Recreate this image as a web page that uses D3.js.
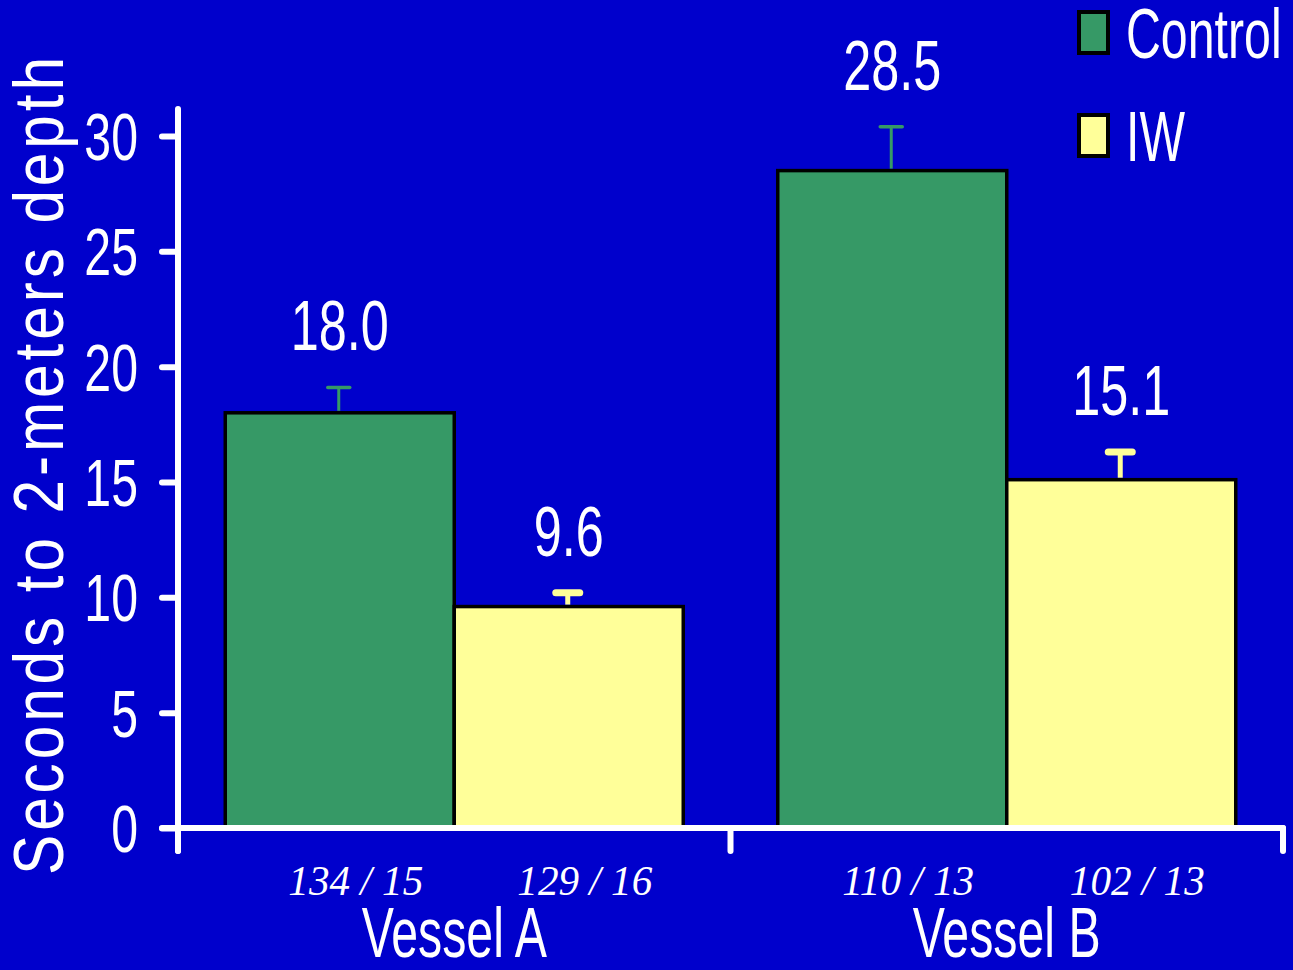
<!DOCTYPE html>
<html>
<head>
<meta charset="utf-8">
<script src="https://cdn.jsdelivr.net/npm/d3@7"></script>
<style>
  html, body { margin: 0; padding: 0; background: #0000cc; }
  svg { display: block; }
</style>
</head>
<body>
<svg id="chart" width="1293" height="970"></svg>
<script>
// ---- data ----
const categories = ["Vessel A", "Vessel B"];
const seriesNames = ["Control", "IW"];
const controlValues = [18.0, 28.5];
const iwValues = [9.6, 15.1];
const controlErrors = [1.1, 1.9];
const iwErrors = [0.6, 1.2];
const controlCounts = ["134 / 15", "110 / 13"];
const iwCounts = ["129 / 16", "102 / 13"];
const yTicks = [0, 5, 10, 15, 20, 25, 30];
const yTitle = "Seconds to 2-meters depth";

// ---- styles ----
const BG = "#0000cc";
const colors = { Control: "#369966", IW: "#ffff99" };
const SANS = "'Liberation Sans', Arial, sans-serif";
const SERIF = "'Liberation Serif', 'Times New Roman', serif";

const svg = d3.select("#chart");
svg.append("rect").attr("width", 1293).attr("height", 970).attr("fill", BG);

const rows = [];
categories.forEach((c, i) => {
  rows.push({ cat: c, s: "Control", v: controlValues[i], e: controlErrors[i], n: controlCounts[i] });
  rows.push({ cat: c, s: "IW", v: iwValues[i], e: iwErrors[i], n: iwCounts[i] });
});

const y = d3.scaleLinear().domain([0, 30]).range([828, 136]);
const x0 = d3.scaleBand().domain(categories).range([178, 1283]).paddingInner(0).paddingOuter(0);
const barW = 229;
const po = (x0.bandwidth() / barW - 2) / 2;
const x1 = d3.scaleBand().domain(seriesNames).range([0, x0.bandwidth()]).paddingInner(0).paddingOuter(po);

function scaledText(parent, x, yy, txt, size, sx, anchor, family, style) {
  const g = parent.append("g").attr("transform", `translate(${x},${yy}) scale(${sx},1)`);
  const t = g.append("text")
    .attr("text-anchor", anchor)
    .attr("font-family", family || SANS)
    .attr("font-size", size)
    .attr("fill", "white")
    .text(txt);
  if (style) t.attr("font-style", style);
  return t;
}

// ---- bars ----
const bars = svg.append("g");
bars.selectAll("rect").data(rows).join("rect")
  .attr("x", d => x0(d.cat) + x1(d.s))
  .attr("y", d => y(d.v))
  .attr("width", x1.bandwidth())
  .attr("height", d => y(0) - y(d.v))
  .attr("fill", d => colors[d.s])
  .attr("stroke", "black")
  .attr("stroke-width", 3.5);

// ---- error bars ----
const errs = svg.append("g");
rows.forEach(d => {
  const cx = x0(d.cat) + x1(d.s) + x1.bandwidth() / 2 - 1;
  const thick = d.s === "IW";
  errs.append("line")
    .attr("x1", cx).attr("x2", cx)
    .attr("y1", y(d.v) - 2).attr("y2", y(d.v + d.e))
    .attr("stroke", colors[d.s]).attr("stroke-width", thick ? 5 : 3);
  const cw = thick ? 24 : 22;
  errs.append("line")
    .attr("x1", cx - cw / 2).attr("x2", cx + cw / 2)
    .attr("y1", y(d.v + d.e)).attr("y2", y(d.v + d.e))
    .attr("stroke", colors[d.s]).attr("stroke-width", thick ? 7 : 3.5)
    .attr("stroke-linecap", "round");
});

// ---- value labels ----
const vl = svg.append("g");
rows.forEach(d => {
  const cx = x0(d.cat) + x1(d.s) + x1.bandwidth() / 2;
  scaledText(vl, cx, y(d.v + d.e) - 37, d3.format(".1f")(d.v), 70, 0.72, "middle");
});

// ---- counts labels ----
const cl = svg.append("g");
rows.forEach(d => {
  const cx = x0(d.cat) + x1(d.s) + x1.bandwidth() / 2 + 16;
  scaledText(cl, cx, 895, d.n, 42, 0.98, "middle", SERIF, "italic");
});

// ---- category labels ----
const catg = svg.append("g");
categories.forEach(c => {
  scaledText(catg, x0(c) + x0.bandwidth() / 2, 957, c, 70, 0.69, "middle");
});

// ---- axes ----
const axisG = svg.append("g").attr("transform", "translate(178,0)");
axisG.call(d3.axisLeft(y).tickValues(yTicks).tickSize(16).tickSizeOuter(0).tickFormat(""));
axisG.select(".domain").remove();
axisG.selectAll(".tick line").attr("stroke", "white").attr("stroke-width", 6).attr("stroke-linecap", "round");

// y axis line
svg.append("line").attr("x1", 178).attr("x2", 178).attr("y1", 109).attr("y2", 851)
  .attr("stroke", "white").attr("stroke-width", 6).attr("stroke-linecap", "round");
// x axis line
svg.append("line").attr("x1", 162).attr("x2", 1283).attr("y1", y(0)).attr("y2", y(0))
  .attr("stroke", "white").attr("stroke-width", 6).attr("stroke-linecap", "round");
// x ticks at band boundaries
const xb = categories.map(c => x0(c)).concat([x0.range()[1]]);
svg.append("g").selectAll("line").data(xb).join("line")
  .attr("x1", d => d).attr("x2", d => d)
  .attr("y1", y(0)).attr("y2", 851)
  .attr("stroke", "white").attr("stroke-width", 6).attr("stroke-linecap", "round");

// y tick labels
const tl = svg.append("g");
yTicks.forEach(t => {
  scaledText(tl, 138, y(t) + 24, String(t), 67, 0.72, "end");
});

// y title
const tg = svg.append("g").attr("transform", "translate(63,466) rotate(-90) scale(0.85,1)");
tg.append("text")
  .attr("text-anchor", "middle")
  .attr("font-family", SANS)
  .attr("font-size", 71)
  .attr("fill", "white")
  .attr("textLength", 818 / 0.85)
  .attr("lengthAdjust", "spacing")
  .text(yTitle);

// ---- legend ----
const lg = svg.append("g");
const legendY = [12, 115];
seriesNames.forEach((s, i) => {
  lg.append("rect")
    .attr("x", 1079).attr("y", legendY[i])
    .attr("width", 29).attr("height", 41)
    .attr("fill", colors[s]).attr("stroke", "black").attr("stroke-width", 4);
  scaledText(lg, 1126, legendY[i] + 46, s, 70, 0.69, "start");
});
</script>
</body>
</html>
